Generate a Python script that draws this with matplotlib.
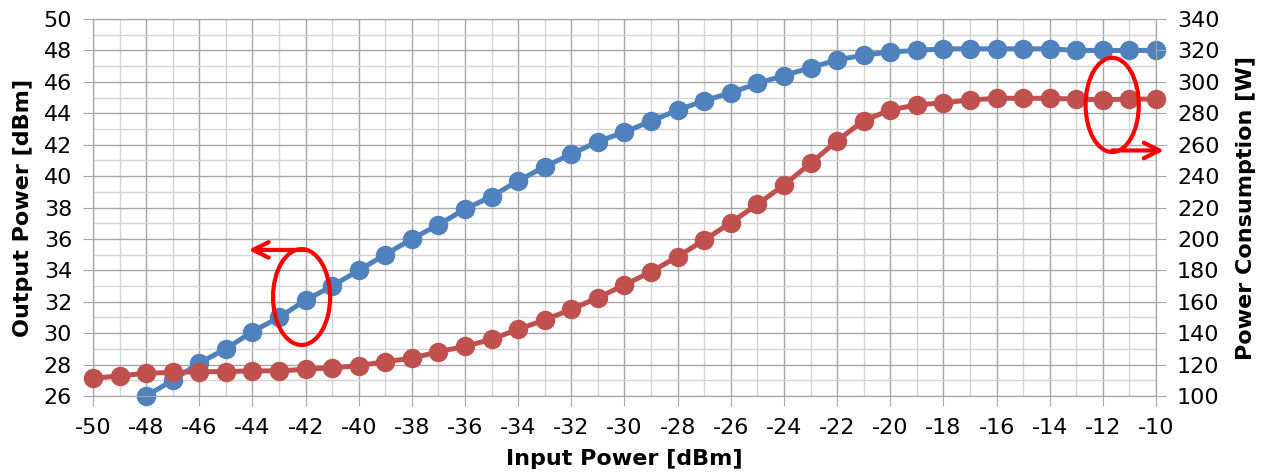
import numpy as np
import matplotlib
matplotlib.use("Agg")
import matplotlib.pyplot as plt
from matplotlib.patches import Ellipse
from matplotlib.ticker import MultipleLocator

# --- DATOS ---
entrada_salida = list(range(-48, -9))        # Input Power [dBm] para la curva azul
potencia_salida = [26.0, 27.0, 28.1, 29.0, 30.1, 31.0, 32.1, 33.0, 34.0, 35.0,
                   36.0, 36.9, 37.9, 38.7, 39.7, 40.6, 41.4, 42.2, 42.8, 43.5,
                   44.2, 44.8, 45.3, 45.9, 46.4, 46.9, 47.4, 47.7, 47.9, 48.0,
                   48.1, 48.1, 48.1, 48.1, 48.1, 48.0, 48.0, 48.0, 48.0]

entrada_consumo = list(range(-50, -9))       # Input Power [dBm] para la curva roja
consumo = [111.3, 112.8, 114.5, 115.0, 115.5, 115.5, 116.0, 116.0, 117.0, 118.0,
           119.3, 121.9, 124.0, 128.2, 131.6, 136.1, 142.5, 148.4, 155.2, 162.6,
           170.7, 179.1, 188.7, 199.3, 210.3, 222.0, 234.3, 248.1, 262.5, 275.3,
           282.1, 285.3, 286.7, 288.4, 289.5, 289.5, 289.5, 289.0, 288.6, 289.0,
           289.0]

x_ticks = list(range(-50, -9, 2))
y1_ticks = list(range(26, 51, 2))
y2_ticks = list(range(100, 341, 20))

AZUL = '#4F81BD'
ROJO = '#C0504D'

plt.rcParams['font.family'] = ['DejaVu Sans']

fig = plt.figure(figsize=(12.75, 4.75), dpi=100)
ax = fig.add_axes([0.0729, 0.1663, 0.8338, 0.7937])
ax2 = ax.twinx()

# --- CURVAS ---
ax.plot(entrada_salida, potencia_salida, '-o', color=AZUL, lw=3.6,
        markersize=13, zorder=3, clip_on=False)
ax2.plot(entrada_consumo, consumo, '-o', color=ROJO, lw=3.6,
         markersize=13, zorder=3, clip_on=False)

# --- EJES ---
ax.set_xlim(-50, -10)
ax.set_ylim(26, 50)
ax2.set_ylim(100, 340)
ax.set_xticks(x_ticks)
ax.set_yticks(y1_ticks)
ax2.set_yticks(y2_ticks)
ax.xaxis.set_minor_locator(MultipleLocator(1))
ax.yaxis.set_minor_locator(MultipleLocator(1))

ax.grid(True, which='major', color='#a6a6a6', lw=1.0)
ax.grid(True, which='minor', color='#d4d4d4', lw=1.0)
ax.set_axisbelow(True)

for a in (ax, ax2):
    for s in a.spines.values():
        s.set_color('#a6a6a6')
    a.tick_params(which='major', length=7, color='#a6a6a6', labelsize=16,
                  pad=8)
    a.tick_params(which='minor', length=0)
ax.tick_params(axis='x', pad=9)

ax.set_xticklabels([str(v) for v in x_ticks])
ax.set_xlabel("Input Power [dBm]", fontsize=16, fontweight='bold', labelpad=8)
ax.set_ylabel("Output Power [dBm]", fontsize=16, fontweight='bold', labelpad=8)
ax2.set_ylabel("Power Consumption [W]", fontsize=16, fontweight='bold',
               labelpad=12)

# --- ANOTACIONES (elipses y flechas) ---
ax.add_patch(Ellipse((-42.15, 32.3), 2.15, 6.1, fill=False, ec='red',
                     lw=3, zorder=5))
ax.annotate("", xy=(-44.15, 35.3), xytext=(-41.95, 35.3),
            arrowprops=dict(arrowstyle='->', color='red', lw=3,
                            mutation_scale=28, shrinkA=0, shrinkB=0),
            zorder=5)

ax2.add_patch(Ellipse((-11.65, 285.3), 2.0, 60, fill=False, ec='red',
                      lw=3, zorder=5))
ax2.annotate("", xy=(-9.7, 256.3), xytext=(-11.65, 256.3),
             arrowprops=dict(arrowstyle='->', color='red', lw=3,
                             mutation_scale=28, shrinkA=0, shrinkB=0),
             annotation_clip=False, zorder=5)

fig.savefig("out.png", dpi=100)
